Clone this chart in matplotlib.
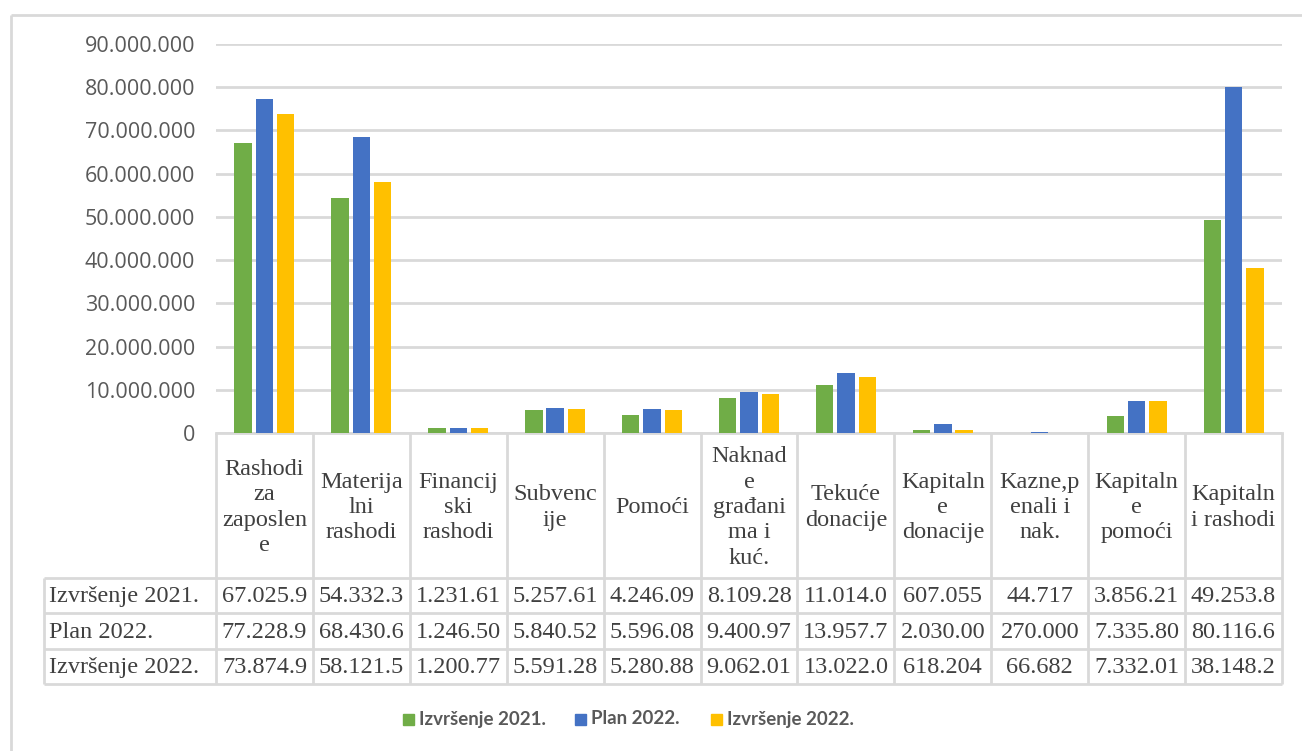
# Rashodi - izvršenje 2021., plan 2022. i izvršenje 2022. (stupci + tablica podataka)

import numpy as np
import matplotlib.pyplot as plt
from matplotlib.lines import Line2D
from matplotlib.patches import Rectangle

categories = [
    "Rashodi\nza\nzaposlen\ne",
    "Materija\nlni\nrashodi",
    "Financij\nski\nrashodi",
    "Subvenc\nije",
    "Pomoći",
    "Naknad\ne\ngrađani\nma i\nkuć.",
    "Tekuće\ndonacije",
    "Kapitaln\ne\ndonacije",
    "Kazne,p\nenali i\nnak.",
    "Kapitaln\ne\npomoći",
    "Kapitaln\ni rashodi",
]
series_names = ["Izvršenje 2021.", "Plan 2022.", "Izvršenje 2022."]

izvrsenje_2021 = [67025900, 54332300, 1231610, 5257610, 4246090, 8109280,
                  11014000, 607055, 44717, 3856210, 49253800]
plan_2022 = [77228900, 68430600, 1246500, 5840520, 5596080, 9400970,
             13957700, 2030000, 270000, 7335800, 80116600]
izvrsenje_2022 = [73874900, 58121500, 1200770, 5591280, 5280880, 9062010,
                  13022000, 618204, 66682, 7332010, 38148200]

y_ticks = np.arange(0, 90_000_001, 10_000_000)

colors = ["#70AD47", "#4472C4", "#FFC000"]
grid_col = "#D9D9D9"
text_col = "#595959"

W, H = 1302, 751
fig = plt.figure(figsize=(W / 100, H / 100), dpi=100)

# pixel positions of the plot area
left, right, top, bottom = 216, 1282, 44, 433
ax = fig.add_axes([left / W, 1 - bottom / H, (right - left) / W, (bottom - top) / H])

n = len(categories)
x = np.arange(n)
bar_w = 0.18
step = 0.22
all_series = [izvrsenje_2021, plan_2022, izvrsenje_2022]
for k, vals in enumerate(all_series):
    ax.bar(x + (k - 1) * step, vals, width=bar_w, color=colors[k], zorder=3)

ax.set_xlim(-0.5, n - 0.5)
ax.set_ylim(0, 90_000_000)
ax.set_yticks(y_ticks)
ax.set_yticklabels([f"{int(t):,}".replace(",", ".") for t in y_ticks],
                   fontsize=15.5, color=text_col, family="Open Sans")
ax.set_xticks([])
ax.tick_params(axis="y", length=0, pad=15)
ax.grid(axis="y", color=grid_col, linewidth=2, zorder=0)
for s in ["top", "right", "left"]:
    ax.spines[s].set_visible(False)
ax.spines["bottom"].set_color(grid_col)
ax.spines["bottom"].set_linewidth(2)

# data table drawn in pixel coordinates under the chart
tab = fig.add_axes([0, 0, 1, 1], facecolor="none")
tab.set_xlim(0, W)
tab.set_ylim(H, 0)
tab.axis("off")

col_w = (right - left) / n
row_lines = [bottom, 578, 613, 649, 684]
label_left = 44
lk = dict(color=grid_col, linewidth=2, solid_capstyle="butt")

for i in range(n + 1):
    xe = left + i * col_w
    tab.add_line(Line2D([xe, xe], [bottom, row_lines[-1]], **lk))
tab.add_line(Line2D([label_left, label_left], [row_lines[1], row_lines[-1]], **lk))
for yl in row_lines[1:]:
    tab.add_line(Line2D([label_left, right], [yl, yl], **lk))

serif = "Liberation Serif"
fs_tab = 17.5
for i, cat in enumerate(categories):
    cx = left + (i + 0.5) * col_w
    tab.text(cx, (bottom + row_lines[1]) / 2 + 2, cat, ha="center", va="center",
             fontsize=fs_tab, family=serif, color="#404040", linespacing=1.27)

for r, (name, vals) in enumerate(zip(series_names, all_series)):
    cy = (row_lines[r + 1] + row_lines[r + 2]) / 2 + 1
    tab.text(label_left + 5, cy, name, ha="left", va="center",
             fontsize=fs_tab, family=serif, color="#404040")
    for i, v in enumerate(vals):
        cell = f"{v:,}".replace(",", ".")[:8]
        tab.text(left + (i + 0.5) * col_w, cy, cell, ha="center", va="center",
                 fontsize=fs_tab, family=serif, color="#404040")

# legend
leg_y = 719
leg_x = [403, 575, 711]
for k, name in enumerate(series_names):
    tab.add_patch(Rectangle((leg_x[k], leg_y - 5.5), 11, 11, color=colors[k]))
    tab.text(leg_x[k] + 16, leg_y, name, ha="left", va="center", fontsize=13.5,
             fontweight="bold", family="Lato", color=text_col)

# outer chart border (only top and left visible)
tab.add_line(Line2D([11, W], [15, 15], **lk))
tab.add_line(Line2D([11, 11], [15, H], **lk))

fig.savefig("out.png", dpi=100)
